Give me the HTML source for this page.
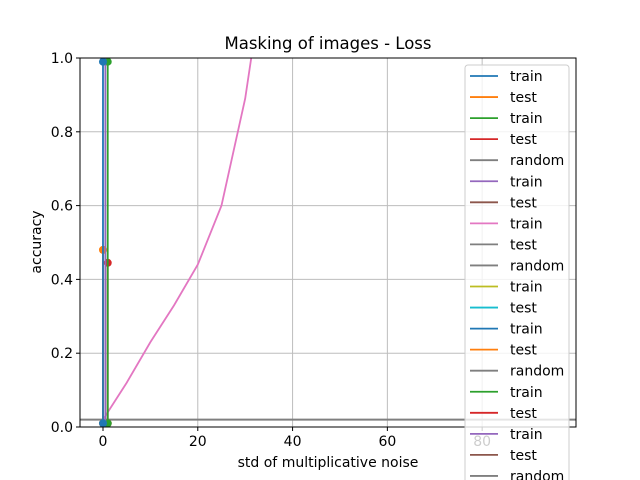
<!DOCTYPE html>
<html><head><meta charset="utf-8"><style>
body{margin:0;background:#fff}
svg{display:block;font-family:"DejaVu Sans","Liberation Sans",sans-serif}
</style></head><body>
<svg id="chart" width="640" height="480" xmlns="http://www.w3.org/2000/svg">
<defs><clipPath id="plotclip"><rect x="80" y="58" width="496" height="369"/></clipPath></defs>
<rect x="0" y="0" width="640" height="480" fill="#fff"/>
<g id="grid"></g>
<g id="series" clip-path="url(#plotclip)"></g>
<rect x="80" y="58" width="496" height="369" fill="none" stroke="#000" stroke-width="1"/>
<g id="ticks"></g>
<text x="328" y="49" text-anchor="middle" font-size="16.5">Masking of images - Loss</text>
<text x="328" y="467" text-anchor="middle" font-size="14">std of multiplicative noise</text>
<text x="0" y="0" transform="translate(41,242) rotate(-90)" text-anchor="middle" font-size="14">accuracy</text>
<g id="legend"></g>
</svg>
<script>
const xTicks=[0,20,40,60,80];
const yTicks=[0,0.2,0.4,0.6,0.8,1.0];
const yTickLabels=["0.0","0.2","0.4","0.6","0.8","1.0"];
const blueX=[0,0], blueY=[0.01,0.99];
const orangeX=[0,0], orangeY=[0.48,0.01];
const greenX=[1,1], greenY=[0.01,0.99];
const redX=[1,1], redY=[0.445,0.01];
const purpleX=[0.5,0.5], purpleY=[0.01,1.0];
const pinkX=[0,5,10,15,20,25,30,35], pinkY=[0.02,0.12,0.23,0.33,0.44,0.6,0.89,1.32];
const randomX=[-5,100], randomY=[0.02,0.02];
const legendLabels=["train","test","train","test","random","train","test","train","test","random","train","test","train","test","random","train","test","train","test","random"];
const legendColors=["#1f77b4","#ff7f0e","#2ca02c","#d62728","#7f7f7f","#9467bd","#8c564b","#e377c2","#7f7f7f","#7f7f7f","#bcbd22","#17becf","#1f77b4","#ff7f0e","#7f7f7f","#2ca02c","#d62728","#9467bd","#8c564b","#7f7f7f"];
const NS="http://www.w3.org/2000/svg";
const X0=80,X1=576,Y0=427,Y1=58,xmin=-4.85,xmax=99.8,ymin=0,ymax=1;
function sx(v){return X0+(v-xmin)/(xmax-xmin)*(X1-X0);}
function sy(v){return Y0-(v-ymin)/(ymax-ymin)*(Y0-Y1);}
function mk(t,a,p){const e=document.createElementNS(NS,t);for(const k in a)e.setAttribute(k,a[k]);p.appendChild(e);return e;}
const grid=document.getElementById('grid'),ticks=document.getElementById('ticks'),ser=document.getElementById('series'),leg=document.getElementById('legend');
xTicks.forEach(v=>{
 const g=mk('line',{x1:sx(v),x2:sx(v),y1:Y1,y2:Y0,stroke:'#bdbdbd','stroke-width':1},grid);
 
 
 const t=mk('line',{x1:sx(v),x2:sx(v),y1:Y0,y2:Y0+4,stroke:'#000'},ticks);
 
 
 const l=mk('text',{x:sx(v),y:Y0+19,'text-anchor':'middle','font-size':14},ticks);
 
 
 l.textContent=v;
});
yTicks.forEach((v,i)=>{
 const g=mk('line',{x1:X0,x2:X1,y1:sy(v),y2:sy(v),stroke:'#bdbdbd','stroke-width':1},grid);
 
 
 const t=mk('line',{x1:X0-4,x2:X0,y1:sy(v),y2:sy(v),stroke:'#000'},ticks);
 
 
 const l=mk('text',{x:X0-7,y:sy(v)+5,'text-anchor':'end','font-size':14},ticks);
 
 
 l.textContent=yTickLabels[i];
});
function series(name,xs,ys,color,markers,w){
 const pts=xs.map((x,i)=>sx(x)+','+sy(ys[i])).join(' ');
 const p=mk('polyline',{points:pts,fill:'none',stroke:color,'stroke-width':w||1.8},ser);
 
 
 if(markers)xs.forEach((x,i)=>{
  const c=mk('circle',{cx:sx(x),cy:sy(ys[i]),r:4,fill:color},ser);
  
  
 });
}
series('random',randomX,randomY,'#7f7f7f',false,2);
series('pink-train',pinkX,pinkY,'#e377c2',false);
series('orange-test',orangeX,orangeY,'#ff7f0e',true);
series('red-test',redX,redY,'#d62728',true);
series('green-train',greenX,greenY,'#2ca02c',true);
series('purple-train',purpleX,purpleY,'#9467bd',false);
series('blue-train',blueX,blueY,'#1f77b4',true);
const box=mk('rect',{x:465,y:65,width:104,height:430,rx:3,fill:'#fff','fill-opacity':0.8,stroke:'#ccc'},leg);


legendLabels.forEach((lab,i)=>{
 const y=76+i*21.05;
 const l=mk('line',{x1:470,x2:498,y1:y,y2:y,stroke:legendColors[i],'stroke-width':1.8},leg);
 
 
 const t=mk('text',{x:510,y:y+5,'font-size':14},leg);
 
 
 t.textContent=lab;
});
</script>
</body></html>
